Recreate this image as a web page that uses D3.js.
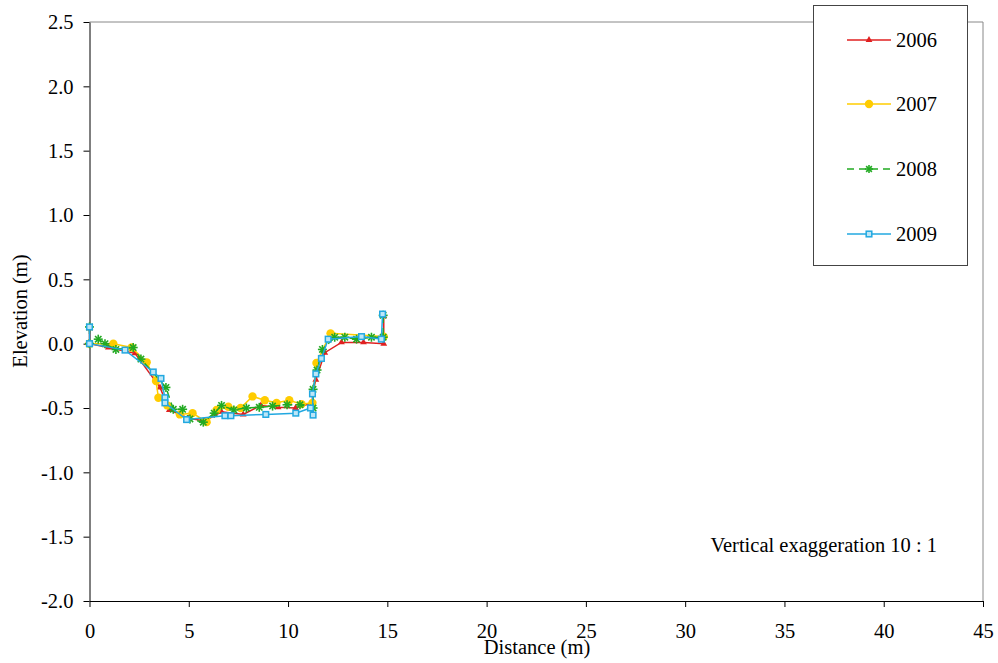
<!DOCTYPE html>
<html><head><meta charset="utf-8">
<script src="https://cdn.jsdelivr.net/npm/d3@7"></script>
<style>body{margin:0;background:#fff}svg{display:block}
svg text{font-family:"Liberation Serif","Times New Roman",Times,serif !important;fill:#000}</style>
</head><body>
<script>
const xTicks = [0,5,10,15,20,25,30,35,40,45];
const yTicks = [2.5,2.0,1.5,1.0,0.5,0.0,-0.5,-1.0,-1.5,-2.0];
const years = ["2006","2007","2008","2009"];

const x2006 = [0,0,0.95,2.29,3.55,4.02,5.0,5.8,6.65,7.74,8.63,9.5,10.38,11.23,11.23,11.4,11.85,12.69,13.8,14.82,14.82];
const y2006 = [0.12,0,-0.03,-0.075,-0.34,-0.515,-0.58,-0.6,-0.53,-0.55,-0.48,-0.495,-0.5,-0.46,-0.39,-0.28,-0.07,0.01,0.01,0,0.215];

const x2007 = [0,1.2,2.12,2.88,3.35,3.47,3.92,4.55,5.19,5.9,6.4,6.99,7.61,8.21,8.83,9.42,10.06,10.68,11.23,11.43,12.14,14.82];
const y2007 = [0,0,-0.03,-0.145,-0.29,-0.42,-0.48,-0.55,-0.54,-0.61,-0.515,-0.49,-0.5,-0.41,-0.44,-0.46,-0.44,-0.47,-0.46,-0.15,0.08,0.055];

const x2008 = [0,0,0.44,0.78,1.33,2.2,2.59,3.85,4.22,4.69,5.06,5.73,6.28,6.65,7.27,7.9,8.55,9.22,9.95,10.6,11.26,11.26,11.46,11.73,12.35,12.86,13.45,14.2,14.79,14.79];
const y2008 = [0.13,0,0.035,0,-0.045,-0.03,-0.12,-0.34,-0.51,-0.51,-0.585,-0.61,-0.54,-0.48,-0.515,-0.5,-0.495,-0.485,-0.475,-0.475,-0.5,-0.355,-0.205,-0.045,0.05,0.05,0.035,0.05,0.05,0.22];

const x2009 = [0,0,1.79,3.21,3.6,3.8,3.8,4.89,6.82,7.12,8.88,10.39,11.13,11.26,11.23,11.4,11.68,12.02,13.7,14.7,14.76];
const y2009 = [0.13,0,-0.05,-0.22,-0.27,-0.42,-0.46,-0.59,-0.56,-0.56,-0.55,-0.54,-0.5,-0.555,-0.39,-0.235,-0.115,0.035,0.055,0.035,0.23];

const colors = {"2006":"#e02020","2007":"#ffcc00","2008":"#22aa22","2009":"#22a8e0"};
const dashes = {"2006":null,"2007":null,"2008":"7,5","2009":null};
const series = [
  {name:"2006", xs:x2006, ys:y2006, sym:d3.symbolTriangle, size:20},
  {name:"2007", xs:x2007, ys:y2007, sym:d3.symbolCircle, size:55},
  {name:"2008", xs:x2008, ys:y2008, sym:"star", size:0},
  {name:"2009", xs:x2009, ys:y2009, sym:"square", size:0}
];

const W=998,H=663;
const L=89.5,R=983,T=22,B=601;
const FS=20.5;
const svg=d3.select("body").append("svg").attr("width",W).attr("height",H);

const x=d3.scaleLinear().domain([0,45]).range([L,R]);
const y=d3.scaleLinear().domain([-2,2.5]).range([B,T]);

svg.append("line").attr("x1",L).attr("x2",R).attr("y1",T).attr("y2",T).attr("stroke","#888").attr("stroke-width",1);
svg.append("line").attr("x1",R).attr("x2",R).attr("y1",T).attr("y2",B).attr("stroke","#888").attr("stroke-width",1);

const xAxis=svg.append("g").attr("transform",`translate(0,${B})`)
  .call(d3.axisBottom(x).tickValues(xTicks).tickSize(6).tickSizeOuter(0).tickFormat(d3.format("d")));
xAxis.select(".domain").attr("stroke","#000");
xAxis.selectAll("text").attr("font-size",FS).attr("y",37).attr("dy",0);

const yAxis=svg.append("g").attr("transform",`translate(${L},0)`)
  .call(d3.axisLeft(y).tickValues(yTicks).tickSize(6).tickSizeOuter(0));
yAxis.select(".domain").attr("stroke","#000");
yAxis.selectAll("text").attr("font-size",FS).attr("x",-16).attr("dy","0.34em")
  .text(d=>d3.format(".1f")(d).replace("\u2212","-"));

svg.append("text").attr("x",537).attr("y",654).attr("text-anchor","middle").attr("font-size",FS).text("Distance (m)");
svg.append("text").attr("transform","translate(27,311) rotate(-90)").attr("text-anchor","middle").attr("font-size",FS).text("Elevation (m)");
svg.append("text").attr("x",937).attr("y",552).attr("text-anchor","end").attr("font-size",FS).text("Vertical exaggeration 10 : 1");

function drawMarker(g,s,cx,cy,scale){
  const c=colors[s.name];
  if(s.sym==="star"){
    const r=4.5*scale;
    const p=g.append("g").attr("transform",`translate(${cx},${cy})`).attr("stroke",c).attr("stroke-width",1.6);
    for(let a=0;a<4;a++){const an=a*Math.PI/4;p.append("line").attr("x1",-r*Math.cos(an)).attr("y1",-r*Math.sin(an)).attr("x2",r*Math.cos(an)).attr("y2",r*Math.sin(an));}
  } else if(s.sym==="square"){
    const h=2.8*scale;
    g.append("rect").attr("x",cx-h).attr("y",cy-h).attr("width",2*h).attr("height",2*h).attr("fill","#bde6f7").attr("stroke",c).attr("stroke-width",1.5);
  } else {
    g.append("path").attr("d",d3.symbol().type(s.sym).size(s.size*scale*scale)()).attr("transform",`translate(${cx},${cy})`).attr("fill",c);
  }
}

const line=d3.line().x(d=>x(d[0])).y(d=>y(d[1]));
series.forEach(s=>{
  const pts=s.xs.map((v,i)=>[v,s.ys[i]]);
  const g=svg.append("g");
  g.append("path").datum(pts).attr("d",line).attr("fill","none").attr("stroke",colors[s.name]).attr("stroke-width",1.5)
    .attr("stroke-dasharray",dashes[s.name]);
  pts.forEach(p=>drawMarker(g,s,x(p[0]),y(p[1]),1));
});

const lg=svg.append("g");
lg.append("rect").attr("x",813.5).attr("y",5.5).attr("width",154).attr("height",260).attr("fill","#fff").attr("stroke","#444").attr("stroke-width",1);
const ly=[40,104,169,234];
series.forEach((s,i)=>{
  lg.append("line").attr("x1",847).attr("x2",891).attr("y1",ly[i]).attr("y2",ly[i]).attr("stroke",colors[s.name]).attr("stroke-width",1.5).attr("stroke-dasharray",dashes[s.name]);
  drawMarker(lg,s,869,ly[i],s.sym==="star"?0.9:1);
  lg.append("text").attr("x",896).attr("y",ly[i]+7).attr("font-size",FS).text(years[i]);
});
</script>
</body></html>
